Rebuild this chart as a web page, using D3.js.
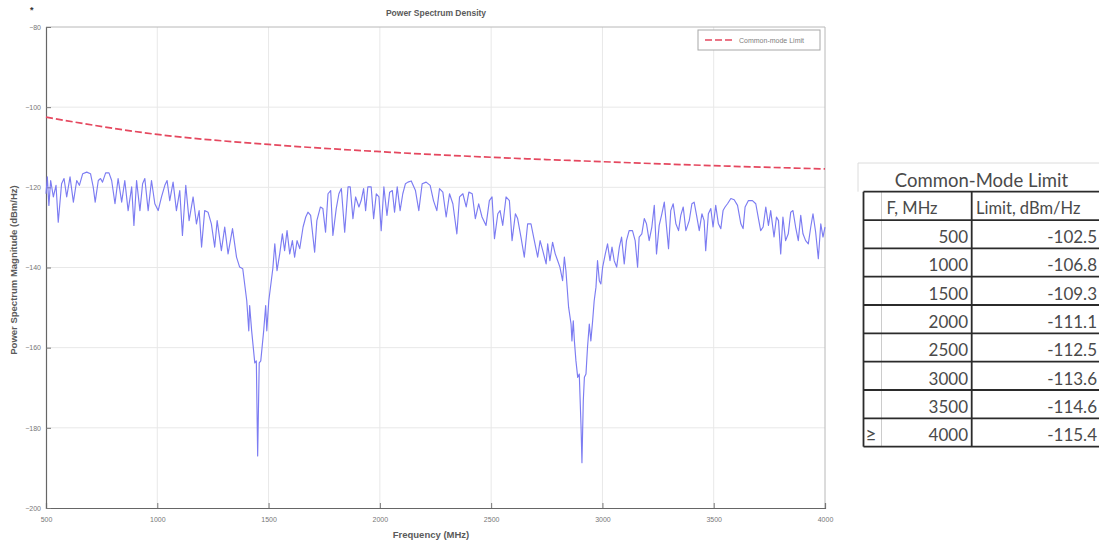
<!DOCTYPE html>
<html><head><meta charset="utf-8">
<script src="https://cdn.jsdelivr.net/npm/d3@7"></script>
<style>body{margin:0;background:#fff;overflow:hidden}</style>
</head><body><svg id="c" width="1099" height="545"></svg>
<script>
// ---- data ----
const limitFreq = [500, 1000, 1500, 2000, 2500, 3000, 3500, 4000];
const limitDb = [-102.5, -106.8, -109.3, -111.1, -112.5, -113.6, -114.6, -115.4];
const limitLabels = ["-102.5", "-106.8", "-109.3", "-111.1", "-112.5", "-113.6", "-114.6", "-115.4"];
const xTicks = [500, 1000, 1500, 2000, 2500, 3000, 3500, 4000];
const yTicks = [-80, -100, -120, -140, -160, -180, -200];
const tableTitle = "Common-Mode Limit";
const tableHeaders = ["F, MHz", "Limit, dBm/Hz"];
const legendLabel = "Common-mode Limit";

const psdFreq = [500,506,513,521,533,545,555,570,581,593,608,623,638,650,665,683,700,712,721,735,745,754,768,783,795,810,824,840,854,869,885,895,907,922,934,944,959,974,989,1004,1019,1034,1044,1056,1071,1086,1101,1113,1128,1143,1161,1176,1188,1199,1213,1228,1243,1258,1269,1288,1303,1318,1338,1356,1370,
1384,1402,1411,1415,1424,1438,1445,1451,1458,1465,1478,1487,1492,1501,1519,1528,1538,1550,1562,1572,1583,1595,1607,1617,1628,1640,1655,1667,1677,1689,1707,1717,1733,1744,1756,1767,1779,1789,1804,1816,1827,1842,1857,1867,1879,1891,1906,1916,1927,1936,1946,1961,1972,1984,1996,2006,2018,2032,2044,2056,2066,2078,2091,2103,2115,2126,2141,2160,2175,2190,2208,2226,2241,2256,2268,2283,2298,2313,2328,2346,2358,2373,2388,2400,2415,2429,2444,2459,2477,2492,2504,2515,2530,2540,2552,2567,2582,2594,2609,2619,2634,2649,2664,2679,2694,2709,2720,2732,2747,2754,2764,2776,2788,2799,2809,2821,2829,2836,2848,2859,2863,2869,2874,2881,2889,2896,2904,2908,2914,2919,2926,2933,2941,2948,2956,2963,2971,2978,2986,2993,3001,3013,3023,3034,3043,3053,3064,3076,3086,3098,3108,3120,3135,3147,3158,3165,3177,3188,3198,3210,3222,3233,3243,3255,3267,3278,3288,3297,3307,3318,3330,3342,3352,3363,3375,3390,3402,3412,3423,3435,3447,3457,3464,3476,3487,3497,3509,3521,3532,3542,3551,3562,3577,3592,3607,3622,3632,3641,3656,3674,3689,3701,3711,3722,3734,3746,3756,3771,3782,3791,3801,3811,3823,3835,3846,3856,3868,3880,3891,3901,3913,3925,3936,3946,3958,3970,3981,3991,4000];
const psdDb = [-121.6,-117.4,-124.5,-118.3,-122.4,-119.5,-128.7,-119.1,-117.8,-122.4,-117.4,-123.7,-118.3,-119.5,-116.6,-116.2,-116.6,-119.9,-123.7,-118.3,-117.8,-118.7,-116.4,-116.4,-118.3,-124.1,-117.8,-123.7,-118.3,-125.8,-119.9,-129.5,-118.3,-125.8,-119.1,-117.8,-125.8,-118.3,-124.1,-125.8,-122.4,-119.5,-118.3,-123.3,-118.7,-125.8,-120.8,-132.0,-119.5,-128.3,-122.4,-129.1,-125.8,-134.9,-125.8,-126.2,-129.1,-134.9,-128.3,-135.8,-129.9,-136.6,-130.3,-137.4,-139.9,
-140.3,-148.3,-155.8,-149.5,-155.8,-163.8,-163.3,-187.0,-163.8,-163.3,-155.8,-149.5,-155.8,-148.3,-140.3,-134.1,-140.8,-136.6,-131.6,-135.8,-130.8,-136.6,-133.3,-137.4,-133.3,-135.3,-129.9,-127.4,-126.2,-127.0,-136.2,-128.3,-124.9,-125.3,-131.2,-121.6,-120.8,-132.0,-125.3,-121.6,-120.3,-131.2,-119.9,-119.9,-127.8,-122.4,-124.9,-123.3,-120.3,-125.8,-119.9,-119.9,-127.8,-121.6,-122.4,-130.8,-119.9,-127.0,-121.2,-120.8,-126.2,-119.9,-125.8,-121.6,-119.1,-118.7,-118.4,-120.8,-125.8,-119.1,-118.7,-119.5,-123.3,-125.8,-120.3,-121.2,-127.4,-121.6,-124.1,-131.6,-122.4,-121.6,-124.9,-121.2,-121.6,-127.8,-124.1,-127.4,-129.5,-123.3,-122.4,-132.8,-126.6,-125.8,-129.5,-122.4,-123.3,-133.3,-126.6,-127.8,-132.4,-137.4,-129.1,-129.1,-133.3,-137.4,-133.3,-135.8,-139.1,-134.1,-138.3,-133.7,-136.6,-138.3,-139.9,-143.3,-137.4,-140.8,-149.9,-154.1,-158.3,-153.3,-158.3,-163.3,-167.4,-166.6,-179.9,-188.7,-173.3,-167.4,-166.6,-159.9,-154.1,-158.3,-153.3,-148.3,-144.9,-138.3,-143.3,-144.1,-139.9,-136.6,-134.1,-138.3,-134.9,-138.3,-139.9,-134.9,-132.4,-139.1,-133.3,-130.8,-130.8,-133.3,-139.9,-132.4,-131.6,-127.8,-129.1,-133.3,-129.9,-124.5,-136.6,-129.5,-126.6,-123.7,-129.9,-135.3,-125.8,-124.1,-129.1,-130.8,-127.0,-124.9,-130.8,-128.3,-124.1,-123.7,-127.0,-130.8,-126.6,-128.3,-135.8,-126.6,-125.3,-129.9,-124.5,-129.1,-130.3,-125.8,-124.9,-124.1,-122.8,-123.1,-124.5,-129.1,-130.3,-124.9,-123.3,-123.3,-124.1,-127.8,-130.8,-129.9,-124.9,-129.5,-125.8,-132.4,-127.4,-128.3,-136.6,-127.4,-133.3,-131.6,-126.2,-125.8,-129.9,-133.3,-127.0,-131.6,-133.3,-134.1,-129.9,-126.6,-131.2,-137.8,-129.1,-132.4,-129.9];

// ---- chart ----
const svg = d3.select("#c");
const x = d3.scaleLinear().domain([500, 4000]).range([46, 825]);
const y = d3.scaleLinear().domain([-200, -80]).range([508, 27]);
const L = 46, R = 825, T = 27, B = 508;

// grid
svg.append("g").selectAll("line").data(xTicks.slice(1, -1)).join("line")
  .attr("x1", d => x(d)).attr("x2", d => x(d)).attr("y1", T).attr("y2", B)
  .attr("stroke", "#e8e8e8").attr("stroke-width", 1);
svg.append("g").selectAll("line").data(yTicks.slice(1, -1)).join("line")
  .attr("x1", L).attr("x2", R).attr("y1", d => y(d)).attr("y2", d => y(d))
  .attr("stroke", "#e8e8e8").attr("stroke-width", 1);

// box top/right
svg.append("path").attr("d", `M${L},${T}H${R}V${B}`).attr("fill", "none")
  .attr("stroke", "#b8b8b8").attr("stroke-width", 1);

// axes
const ax = svg.append("g").attr("transform", `translate(0,${B})`)
  .call(d3.axisBottom(x).tickValues(xTicks).tickSize(-5).tickPadding(9).tickFormat(d3.format("d")));
const ay = svg.append("g").attr("transform", `translate(${L},0)`)
  .call(d3.axisLeft(y).tickValues(yTicks).tickSize(-5).tickPadding(5).tickFormat(d3.format("d")));
[ax, ay].forEach(g => {
  g.select(".domain").attr("stroke", "#666").attr("stroke-width", 1.2);
  g.selectAll(".tick line").attr("stroke", "#777");
  g.selectAll(".tick text").attr("fill", "#777").style("font-family", "Liberation Sans, Arial, sans-serif").style("font-size", "7px");
});

// lines
const psd = psdFreq.map((f, i) => [f, psdDb[i]]);
svg.append("path").datum(psd)
  .attr("d", d3.line().x(d => x(d[0])).y(d => y(d[1])))
  .attr("fill", "none").attr("stroke", "#7c7cf2").attr("stroke-width", 1.15)
  .attr("stroke-linejoin", "round");
const lim = limitFreq.map((f, i) => [f, limitDb[i]]);
svg.append("path").datum(lim)
  .attr("d", d3.line().x(d => x(d[0])).y(d => y(d[1])).curve(d3.curveMonotoneX))
  .attr("fill", "none").attr("stroke", "#e5485f").attr("stroke-width", 1.7)
  .attr("stroke-dasharray", "7,3");

// titles
const sans = "Liberation Sans, Arial, sans-serif";
svg.append("text").attr("x", 436).attr("y", 16).attr("text-anchor", "middle")
  .style("font-family", sans).style("font-size", "8.5px").style("font-weight", "bold")
  .attr("fill", "#5a5a5a").text("Power Spectrum Density");
svg.append("text").attr("x", 431).attr("y", 538).attr("text-anchor", "middle")
  .style("font-family", sans).style("font-size", "9.5px").style("font-weight", "bold")
  .attr("fill", "#5a5a5a").text("Frequency (MHz)");
svg.append("text").attr("transform", "translate(17,270) rotate(-90)").attr("text-anchor", "middle")
  .style("font-family", sans).style("font-size", "9.5px").style("font-weight", "bold")
  .attr("fill", "#5a5a5a").text("Power Spectrum Magnitude (dBm/Hz)");
svg.append("text").attr("x", 30).attr("y", 13)
  .style("font-family", sans).style("font-size", "9px").style("font-weight", "bold")
  .attr("fill", "#333").text("*");

// legend
const lg = svg.append("g");
lg.append("rect").attr("x", 698).attr("y", 30).attr("width", 122).attr("height", 20)
  .attr("fill", "#fff").attr("stroke", "#a8a8a8").attr("stroke-width", 1);
lg.append("line").attr("x1", 705).attr("x2", 735).attr("y1", 40).attr("y2", 40)
  .attr("stroke", "#e5485f").attr("stroke-width", 1.6).attr("stroke-dasharray", "7,3");
lg.append("text").attr("x", 739).attr("y", 42.5)
  .style("font-family", sans).style("font-size", "7px")
  .attr("fill", "#808080").text(legendLabel);

// ---- table ----
const tb = svg.append("g");
const tf = "Lato, Open Sans, sans-serif";
const tx0 = 863.5, tx1 = 1104, tcol = 971.7, tsub = 881.5;
const rowY = d3.range(10).map(i => 191.7 + i * 28.33);
tb.append("path").attr("d", `M858,191.7V163H1104`).attr("fill", "none").attr("stroke", "#dcdcdc").attr("stroke-width", 1);
tb.append("text").attr("x", 981.5).attr("y", 186.5).attr("text-anchor", "middle")
  .style("font-family", tf).style("font-size", "18.5px").attr("fill", "#4a4a4a").text(tableTitle);
tb.append("line").attr("x1", tsub).attr("x2", tsub).attr("y1", rowY[0]).attr("y2", rowY[9])
  .attr("stroke", "#cccccc").attr("stroke-width", 1);
tb.selectAll("line.h").data(rowY).join("line").attr("class", "h")
  .attr("x1", tx0).attr("x2", tx1).attr("y1", d => d).attr("y2", d => d)
  .attr("stroke", "#2b2b2b").attr("stroke-width", 1.8);
tb.append("line").attr("x1", tx0).attr("x2", tx0).attr("y1", rowY[0]).attr("y2", rowY[9])
  .attr("stroke", "#2b2b2b").attr("stroke-width", 1.8);
tb.append("line").attr("x1", tcol).attr("x2", tcol).attr("y1", rowY[0]).attr("y2", rowY[9])
  .attr("stroke", "#2b2b2b").attr("stroke-width", 1.8);
tb.append("text").attr("x", 886.5).attr("y", rowY[1] - 6)
  .style("font-family", tf).style("font-size", "16.5px").attr("fill", "#4a4a4a").text(tableHeaders[0]);
tb.append("text").attr("x", 976).attr("y", rowY[1] - 6)
  .style("font-family", tf).style("font-size", "16.5px").attr("fill", "#4a4a4a").text(tableHeaders[1]);
limitFreq.forEach((f, i) => {
  const yb = rowY[i + 2] - 5.5;
  tb.append("text").attr("x", 968).attr("y", yb).attr("text-anchor", "end")
    .style("font-family", tf).style("font-size", "17px").attr("fill", "#4a4a4a").text(String(f));
  tb.append("text").attr("x", 1097).attr("y", yb).attr("text-anchor", "end")
    .style("font-family", tf).style("font-size", "17px").attr("fill", "#4a4a4a").text(limitLabels[i]);
});
tb.append("text").attr("x", 865.5).attr("y", rowY[9] - 6)
  .style("font-family", tf).style("font-size", "19px").attr("fill", "#4a4a4a").text("≥");
</script>
</body></html>
